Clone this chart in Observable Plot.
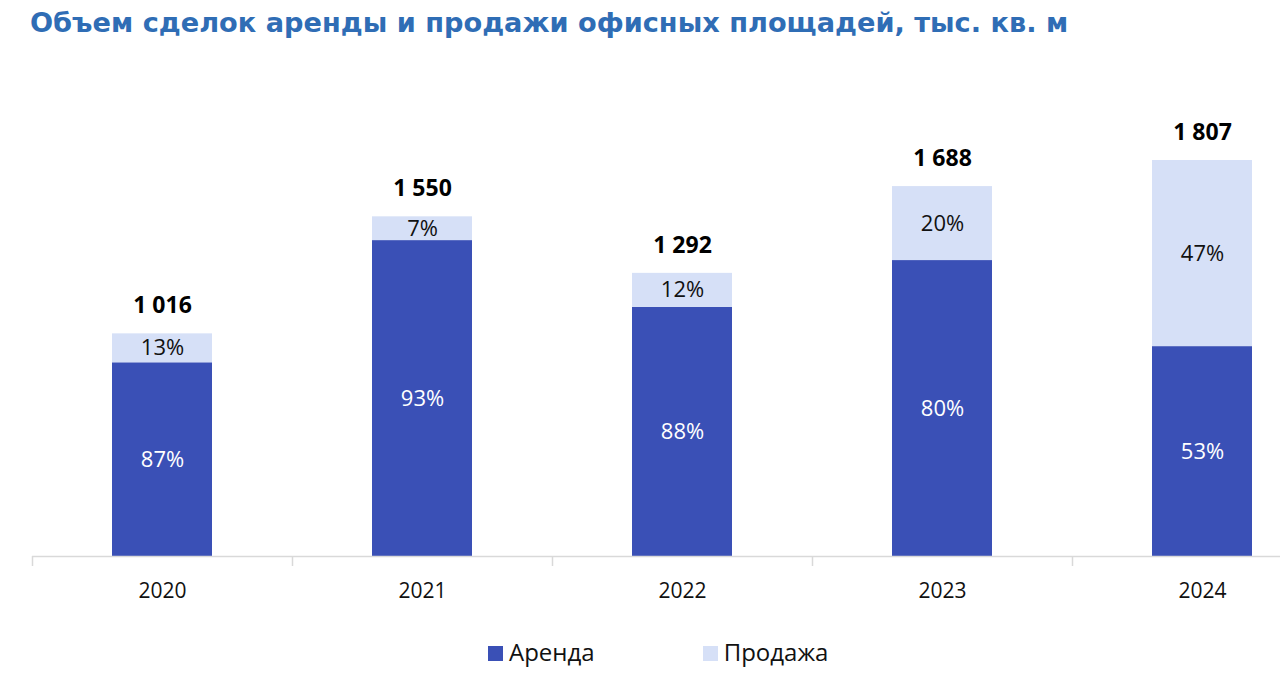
<!DOCTYPE html>
<html><head><meta charset="utf-8">
<script src="https://cdn.jsdelivr.net/npm/d3@7"></script>
<script src="https://cdn.jsdelivr.net/npm/@observablehq/plot@0.6"></script>
<style>
body{margin:0;background:#fff;width:1280px;height:691px;overflow:hidden;font-family:"Open Sans",sans-serif;position:relative}
#title{position:absolute;left:30px;top:7px;font:bold 27.2px "DejaVu Sans",sans-serif;color:#2F6DB5;white-space:nowrap}
#chart{position:absolute;left:0;top:60px}
#legend{position:absolute;top:635px;left:488px;display:flex;align-items:center;font-size:24px;color:#111}
.item{display:flex;align-items:center}
.sw{width:15px;height:15px;margin-right:6px;margin-top:3px}
</style></head>
<body>
<div id="title">Объем сделок аренды и продажи офисных площадей, тыс. кв. м</div>
<div id="chart"></div>
<div id="legend"></div>
<script>
const years = ["2020", "2021", "2022", "2023", "2024"];
const totals = [1016, 1550, 1292, 1688, 1807];
const rentShare = [87, 93, 88, 80, 53];
const saleShare = [13, 7, 12, 20, 47];
const types = ["Аренда", "Продажа"];
const colors = ["#3A50B6", "#D6E0F7"];

const rows = [];
years.forEach((y, i) => {
  rows.push({year: y, type: types[0], share: rentShare[i], value: totals[i] * rentShare[i] / 100});
  rows.push({year: y, type: types[1], share: saleShare[i], value: totals[i] * saleShare[i] / 100});
});
const totalRows = years.map((y, i) => ({year: y, total: totals[i]}));
const fmt = d3.formatLocale({thousands: " ", grouping: [3]}).format(",");

const chart = Plot.plot({
  width: 1280,
  height: 560,
  marginTop: 100,
  marginBottom: 64,
  marginLeft: 32,
  marginRight: 0,
  style: {fontFamily: "'Open Sans', sans-serif", color: "#111", background: "white"},
  x: {domain: years, range: [32, 1332], paddingInner: 8 / 13, paddingOuter: 4 / 13, align: 0.5, label: null},
  y: {axis: null, domain: [0, d3.max(totals)]},
  color: {domain: types, range: colors},
  marks: [
    Plot.barY(rows, Plot.stackY({x: "year", y: "value", fill: "type", order: types})),
    Plot.text(rows, Plot.stackY({x: "year", y: "value", z: "type", order: types,
      text: d => d.type === types[0] ? d.share + "%" : null, fill: "white", fontSize: 22})),
    Plot.text(rows, Plot.stackY({x: "year", y: "value", z: "type", order: types,
      text: d => d.type === types[1] ? d.share + "%" : null, fill: "#111", fontSize: 22})),
    Plot.text(totalRows, {x: "year", y: "total", text: d => fmt(d.total), dy: -28, fontSize: 23, fontWeight: "bold", fill: "#000"}),
    Plot.ruleY([0], {stroke: "#D9D9D9", strokeWidth: 1.5}),
    Plot.ruleX(years, {x: d => d, dx: -130, y1: 0, y2: 0, insetBottom: -10, stroke: "#D9D9D9", strokeWidth: 1.5}),
    Plot.axisX({tickSize: 0, tickPadding: 27, fontSize: 21, label: null})
  ]
});
document.getElementById("chart").append(chart);

const legend = document.getElementById("legend");
types.forEach((t, i) => {
  const it = document.createElement("div");
  it.className = "item";
  if (i > 0) it.style.marginLeft = "108px";
  it.innerHTML = `<span class="sw" style="background:${colors[i]}"></span><span>${t}</span>`;
  legend.append(it);
});
</script>
</body></html>
